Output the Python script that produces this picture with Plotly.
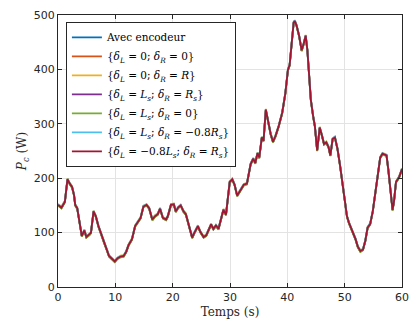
import plotly.graph_objects as go

# Time (s) and power (W) (all series nearly overlap)
t = [0, 0.6, 1.2, 1.65, 2.05, 2.45, 2.8, 3.0, 3.35, 3.75, 4.15, 4.6, 4.95, 5.5, 5.75,
     6.2, 6.6, 7.05, 7.6, 8.0, 8.5, 8.9, 9.3, 9.9, 10.4, 10.9, 11.45, 11.9, 12.3, 12.9,
     13.45, 14.0, 14.4, 14.9, 15.45, 15.9, 16.45, 16.9, 17.4, 17.8, 18.3, 18.85, 19.15,
     19.7, 20.2, 20.55, 20.95, 21.4, 21.9, 22.3, 22.7, 23.0, 23.4, 23.8, 24.4, 24.85,
     25.4, 25.85, 26.45, 26.7, 27.1, 27.55, 28.0, 28.4, 28.85, 29.3, 29.6, 29.95, 30.4,
     30.8, 31.25, 31.7, 32.1, 32.4, 32.95, 33.3, 33.6, 34.05, 34.4, 34.8, 35.1, 35.55,
     35.85, 36.25, 36.7, 37.1, 37.5, 37.95, 38.5, 39.1, 39.65, 40.1, 40.4, 40.75, 41.1,
     41.3, 41.6, 42.05, 42.5, 42.85, 43.2, 43.5, 43.75, 44.1, 44.5, 44.8, 45.2, 45.65,
     46.05, 46.4, 46.8, 47.2, 47.5, 47.9, 48.3, 48.75, 49.2, 49.6, 50.05, 50.4, 50.75,
     51.15, 51.5, 51.9, 52.3, 52.75, 53.2, 53.6, 54.0, 54.45, 54.9, 55.3, 55.7, 56.2,
     56.6, 57.3, 57.6, 58.0, 58.35, 58.6, 58.95, 59.5, 60]

p_base = [151, 146, 157, 198, 190, 184, 169, 151, 145, 115, 94, 104, 92, 97, 100,
          139, 130, 112, 94, 82, 69, 57, 53, 47, 53, 56, 57, 65, 77, 88,
          112, 122, 127, 148, 151, 145, 124, 130, 134, 144, 127, 124, 130,
          151, 152, 139, 146, 150, 139, 134, 118, 110, 91, 100, 112, 101,
          92, 95, 109, 115, 107, 113, 107, 124, 142, 133, 157, 193, 198,
          188, 168, 175, 181, 188, 190, 208, 226, 236, 228, 246, 238, 275,
          269, 326, 299, 281, 267, 278, 296, 320, 356, 399, 408, 450, 486,
          489, 481, 462, 435, 447, 462, 435, 402, 344, 314, 296, 251, 293,
          278, 263, 266, 257, 242, 272, 275, 254, 223, 193, 157, 130, 118,
          107, 101, 88, 74, 66, 69, 85, 109, 116, 139, 169, 202, 238,
          245, 242, 217, 169, 142, 157, 193, 202, 217]

series_names = [
    "Avec encodeur",
    "{<i>δ</i><sub><i>L</i></sub> = 0; <i>δ</i><sub><i>R</i></sub> = 0}",
    "{<i>δ</i><sub><i>L</i></sub> = 0; <i>δ</i><sub><i>R</i></sub> = <i>R</i>}",
    "{<i>δ</i><sub><i>L</i></sub> = <i>L</i><sub><i>s</i></sub>; <i>δ</i><sub><i>R</i></sub> = <i>R</i><sub><i>s</i></sub>}",
    "{<i>δ</i><sub><i>L</i></sub> = <i>L</i><sub><i>s</i></sub>; <i>δ</i><sub><i>R</i></sub> = 0}",
    "{<i>δ</i><sub><i>L</i></sub> = <i>L</i><sub><i>s</i></sub>; <i>δ</i><sub><i>R</i></sub> = −0.8<i>R</i><sub><i>s</i></sub>}",
    "{<i>δ</i><sub><i>L</i></sub> = −0.8<i>L</i><sub><i>s</i></sub>; <i>δ</i><sub><i>R</i></sub> = <i>R</i><sub><i>s</i></sub>}",
]
# small per-series deviations (W) seen in the picture
series_offsets = [0.5, -0.5, 1.5, -1.0, -1.5, 1.0, 0.0]
colors = ["#0072BD", "#D95319", "#EDB120", "#7E2F8E", "#77AC30", "#4DBEEE", "#A2142F"]

assert len(t) == len(p_base), (len(t), len(p_base))

fig = go.Figure()
for name, off, c in zip(series_names, series_offsets, colors):
    fig.add_trace(go.Scatter(x=t, y=[v + off for v in p_base], mode="lines", name=name,
                             line=dict(color=c, width=1.8)))

axis_common = dict(showline=True, linecolor="#262626", linewidth=1, mirror="ticks",
                   ticks="inside", ticklen=4, tickcolor="#262626",
                   showgrid=True, gridcolor="#e3e3e3", gridwidth=1, zeroline=False,
                   tickfont=dict(family="DejaVu Sans", size=11, color="#262626"))

fig.update_layout(
    width=418, height=326,
    margin=dict(l=58, r=9, t=14, b=36),
    paper_bgcolor="white", plot_bgcolor="white",
    xaxis=dict(range=[0, 60], tickvals=[0, 10, 20, 30, 40, 50, 60],
               title=dict(text="Temps (s)", standoff=4,
                          font=dict(family="DejaVu Serif", size=12, color="#262626")),
               **axis_common),
    yaxis=dict(range=[0, 500], tickvals=[0, 100, 200, 300, 400, 500],
               title=dict(text="<i>P</i><sub><i>c</i></sub> (W)", standoff=4,
                          font=dict(family="DejaVu Serif", size=12, color="#262626")),
               **axis_common),
    legend=dict(x=0.023, y=0.975, xanchor="left", yanchor="top",
                bgcolor="white", bordercolor="#262626", borderwidth=1,
                font=dict(family="DejaVu Serif", size=10.5, color="black"),
                tracegroupgap=0, itemwidth=30),
    showlegend=True,
)

fig.write_html("out.html")
